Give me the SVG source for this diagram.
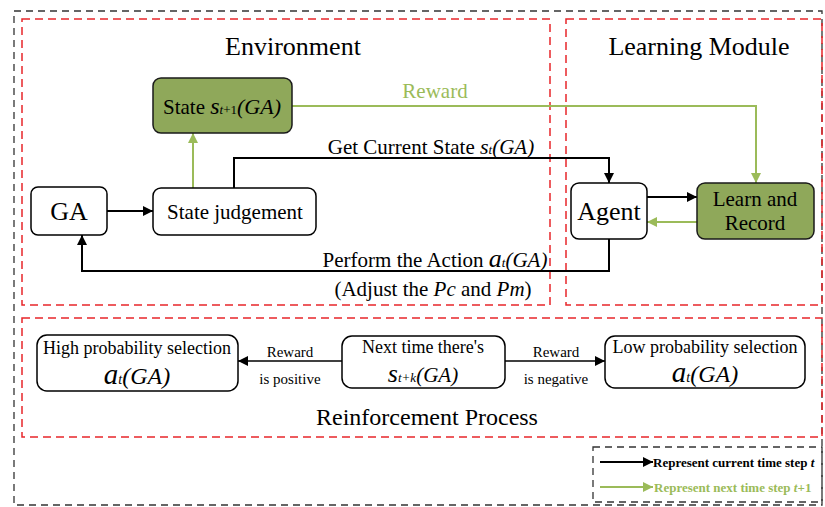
<svg xmlns="http://www.w3.org/2000/svg" width="825" height="507" viewBox="0 0 825 507">
<defs>
<marker id="ak" viewBox="0 0 10 10" refX="10" refY="5" markerWidth="10" markerHeight="10" markerUnits="userSpaceOnUse" orient="auto"><path d="M0,0 L10,5 L0,10 z" fill="#000"/></marker>
<marker id="ag" viewBox="0 0 10 10" refX="10" refY="5" markerWidth="10" markerHeight="10" markerUnits="userSpaceOnUse" orient="auto"><path d="M0,0 L10,5 L0,10 z" fill="#9BBB59"/></marker>
<style>
text{font-family:"Liberation Serif","Times New Roman",serif;fill:#000}
.red{fill:none;stroke:#E8262A;stroke-width:1.5;stroke-dasharray:8 5}
.bd{fill:none;stroke:#333;stroke-width:1.3;stroke-dasharray:7 5}
.box{fill:#fff;stroke:#000;stroke-width:1.5}
.gbox{fill:#8FA85A;stroke:#1a1a1a;stroke-width:1.5}
.k{stroke:#000;stroke-width:2;fill:none}
.k1{stroke:#000;stroke-width:1.5;fill:none}
.g{stroke:#9BBB59;stroke-width:2;fill:none}
.i{font-style:italic}
.m{text-anchor:middle}
.lg{font-weight:bold;font-size:13px}
</style>
</defs>
<g id="frames">
<rect class="bd" x="14" y="11" width="808" height="494"/>
<rect class="red" x="22" y="19" width="528" height="286"/>
<rect class="red" x="566" y="19" width="256" height="286"/>
<rect class="red" x="22" y="318" width="800" height="119"/>
<rect class="bd" x="593" y="447" width="229" height="55"/>
<text class="m" x="293" y="55" font-size="26">Environment</text>
<text class="m" x="699" y="55" font-size="26">Learning Module</text>
<text class="m" x="427" y="425" font-size="24">Reinforcement Process</text>
</g>
<g id="connectors">
<line class="k" x1="107" y1="211" x2="153" y2="211" marker-end="url(#ak)"/>
<line class="g" x1="193" y1="188" x2="193" y2="133" marker-end="url(#ag)"/>
<polyline class="k" points="234,188 234,158 609,158 609,183" marker-end="url(#ak)"/>
<polyline class="g" points="292,106 756,106 756,183" marker-end="url(#ag)"/>
<line class="k" x1="647" y1="197" x2="697" y2="197" marker-end="url(#ak)"/>
<line class="g" x1="697" y1="222" x2="647" y2="222" marker-end="url(#ag)"/>
<polyline class="k" points="609,239 609,271 82,271 82,235" marker-end="url(#ak)"/>
<line class="k1" x1="342" y1="361" x2="238" y2="361" marker-end="url(#ak)"/>
<line class="k1" x1="505" y1="361" x2="605" y2="361" marker-end="url(#ak)"/>
<text class="m" x="435" y="98" font-size="21" style="fill:#9BBB59">Reward</text>
<text class="m" x="431" y="154" font-size="21">Get Current State <tspan class="i" font-size="22">s</tspan><tspan class="i" font-size="13">t</tspan><tspan class="i">(GA)</tspan></text>
<text class="m" x="435" y="267" font-size="21">Perform the Action <tspan class="i" font-size="26">a</tspan><tspan class="i" font-size="13">t</tspan><tspan class="i">(GA)</tspan></text>
<text class="m" x="433" y="296" font-size="21">(Adjust the <tspan class="i">Pc</tspan> and <tspan class="i">Pm</tspan>)</text>
<text class="m" x="290" y="357" font-size="15">Reward</text>
<text class="m" x="290" y="384" font-size="15">is positive</text>
<text class="m" x="556" y="357" font-size="15">Reward</text>
<text class="m" x="556" y="384" font-size="15">is negative</text>
</g>
<g id="n-state-next">
<rect class="gbox" x="153" y="78" width="139" height="55" rx="8"/>
<text class="m" x="222" y="114" font-size="21">State <tspan class="i" font-size="24">s</tspan><tspan font-size="13" class="i">t</tspan><tspan font-size="13">+1</tspan><tspan class="i" font-size="22">(GA)</tspan></text>
</g>
<g id="n-ga">
<rect class="box" x="31" y="187" width="76" height="48" rx="7"/>
<text class="m" x="69" y="220" font-size="26">GA</text>
</g>
<g id="n-judge">
<rect class="box" x="153" y="188" width="163" height="47" rx="8"/>
<text class="m" x="235" y="219" font-size="21">State judgement</text>
</g>
<g id="n-agent">
<rect class="box" x="571" y="183" width="76" height="56" rx="8"/>
<text class="m" x="609" y="220" font-size="26">Agent</text>
</g>
<g id="n-learn">
<rect class="gbox" x="697" y="183" width="117" height="56" rx="8"/>
<text class="m" x="755" y="206" font-size="21">Learn and</text>
<text class="m" x="755" y="230" font-size="21">Record</text>
</g>
<g id="n-high">
<rect class="box" x="37" y="335" width="201" height="56" rx="10"/>
<text class="m" x="137" y="354" font-size="18">High probability selection</text>
<text class="m" x="137" y="384" font-size="24"><tspan class="i" font-size="29">a</tspan><tspan class="i" font-size="14">t</tspan><tspan class="i">(GA)</tspan></text>
</g>
<g id="n-next">
<rect class="box" x="342" y="336" width="163" height="52" rx="10"/>
<text class="m" x="423" y="353" font-size="18">Next time there's</text>
<text class="m" x="423" y="382" font-size="21"><tspan class="i" font-size="26">s</tspan><tspan class="i" font-size="13">t+k</tspan><tspan class="i">(GA)</tspan></text>
</g>
<g id="n-low">
<rect class="box" x="605" y="336" width="200" height="52" rx="10"/>
<text class="m" x="705" y="353" font-size="18">Low probability selection</text>
<text class="m" x="705" y="382" font-size="24"><tspan class="i" font-size="29">a</tspan><tspan class="i" font-size="14">t</tspan><tspan class="i">(GA)</tspan></text>
</g>
<g id="legend">
<line class="k" x1="600" y1="462" x2="653" y2="462" marker-end="url(#ak)"/>
<text class="lg" x="653" y="467">Represent current time step <tspan class="i">t</tspan></text>
<line class="g" x1="600" y1="487" x2="653" y2="487" marker-end="url(#ag)"/>
<text class="lg" x="654" y="492" style="fill:#9BBB59">Represent next time step <tspan class="i">t</tspan>+1</text>
</g>
</svg>
